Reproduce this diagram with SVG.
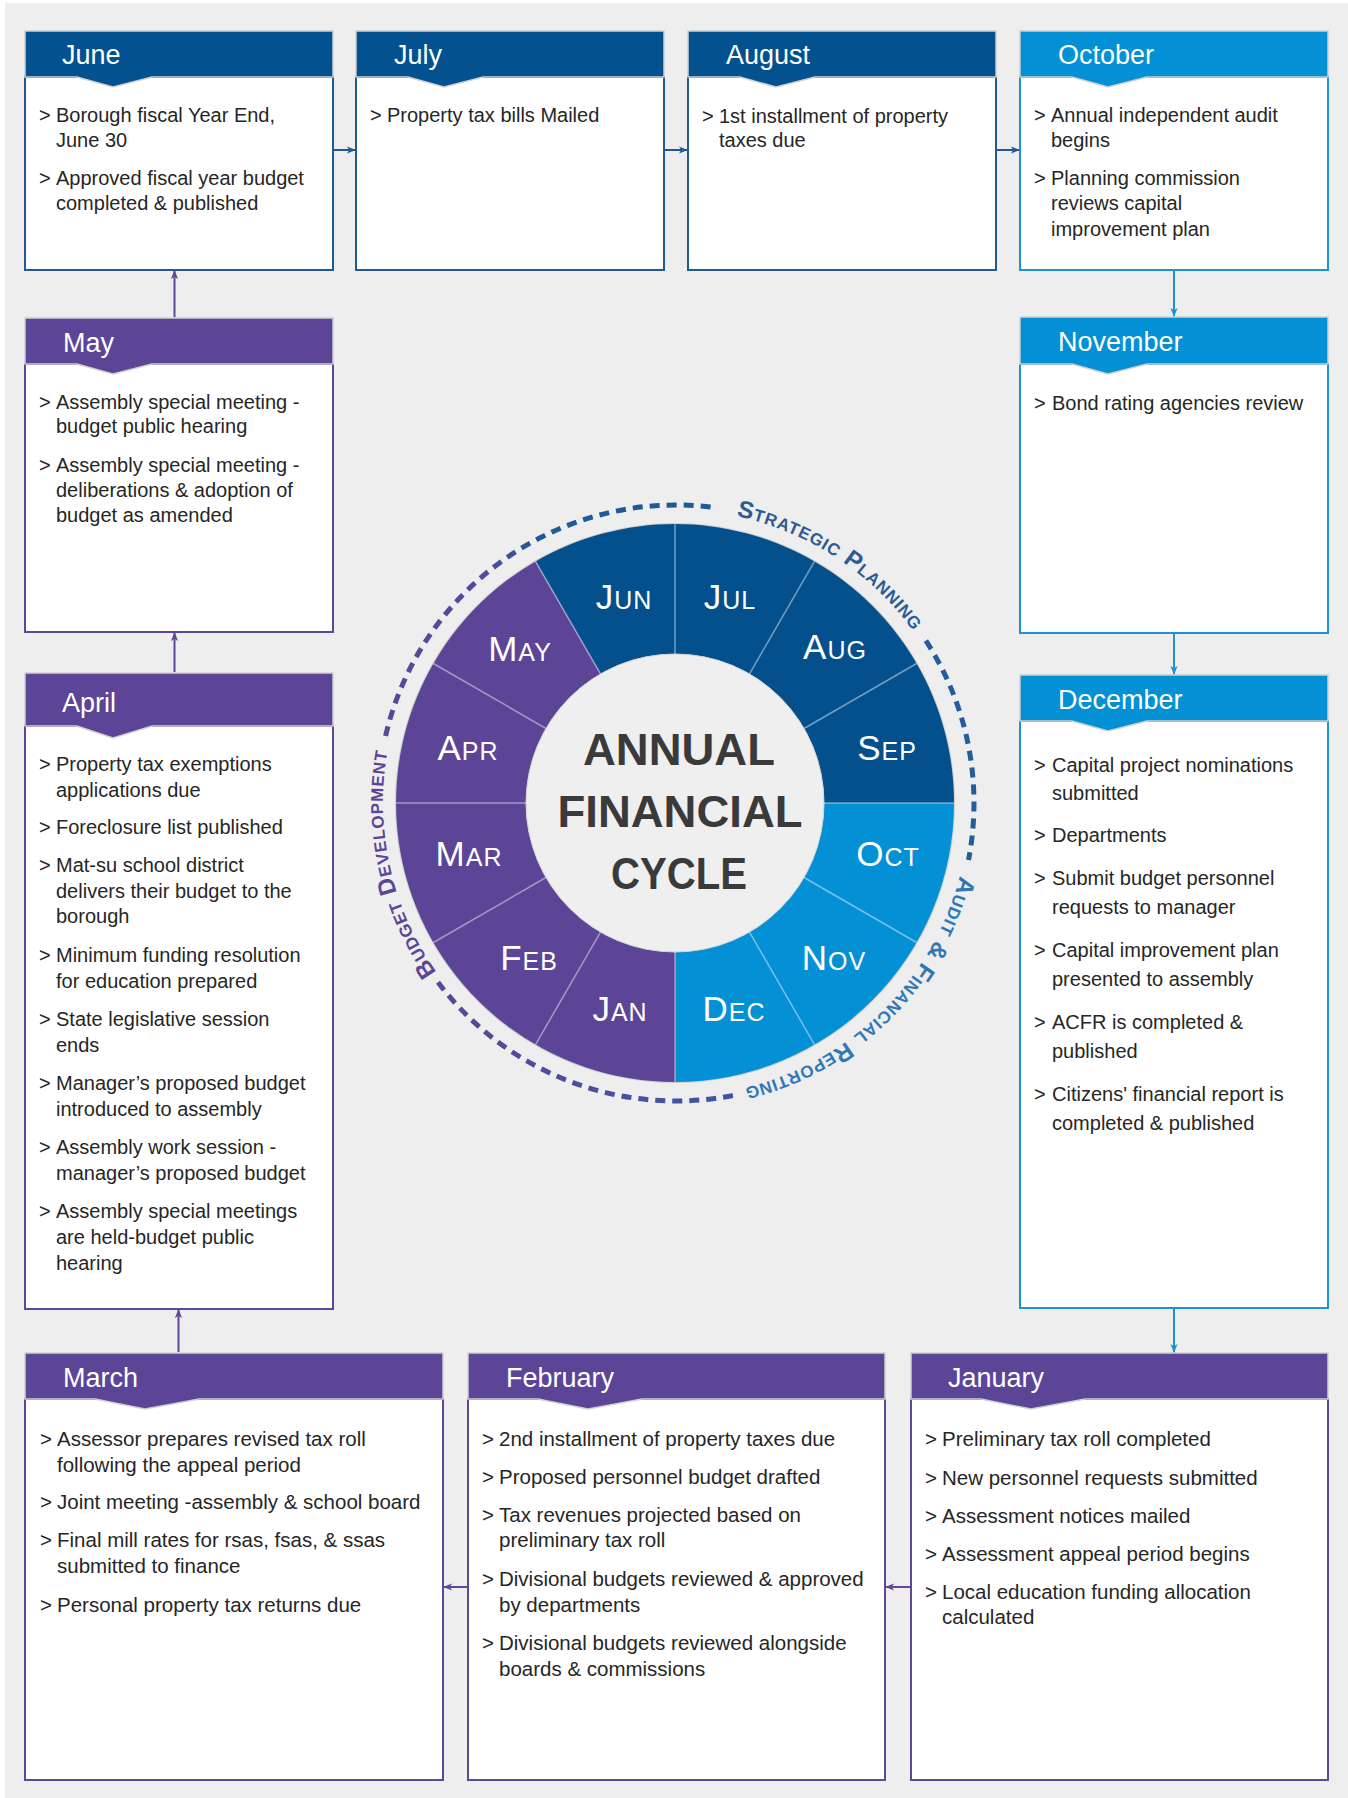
<svg xmlns="http://www.w3.org/2000/svg" width="1348" height="1798" viewBox="0 0 1348 1798">
<defs>
<style>
.hd-db{fill:#03528f;stroke:#cfcfcf;stroke-width:1.5}
.hd-lb{fill:#0490d4;stroke:#cfcfcf;stroke-width:1.5}
.hd-pu{fill:#5c4497;stroke:#cfcfcf;stroke-width:1.5}
.bd-db{fill:#fff;stroke:#1f5a94;stroke-width:2}
.bd-lb{fill:#fff;stroke:#1c93d3;stroke-width:2}
.bd-pu{fill:#fff;stroke:#5f479b;stroke-width:2}
.ttl{font-family:"Liberation Sans",Arial,sans-serif;font-size:27px;fill:#ffffff}
.tx{font-family:"Liberation Sans",Arial,sans-serif;font-size:20px;fill:#262626}
.tx2{font-family:"Liberation Sans",Arial,sans-serif;font-size:20.5px;fill:#262626}
.mo{font-family:"Liberation Sans",Arial,sans-serif;font-size:35px;fill:#ffffff;font-variant:small-caps;text-anchor:middle;letter-spacing:1px}
.ring{font-family:"Liberation Sans",Arial,sans-serif;font-size:24px;font-weight:bold;font-variant:small-caps;letter-spacing:0.8px}
.ctr{font-family:"Liberation Sans",Arial,sans-serif;font-size:44px;font-weight:bold;fill:#3a3a3a;text-anchor:middle}
.c-db{stroke:#1f5a94;stroke-width:2;fill:none}
.c-lb{stroke:#1c93d3;stroke-width:2;fill:none}
.c-pu{stroke:#5f479b;stroke-width:2;fill:none}
.div{stroke:#ffffff;stroke-opacity:0.45;stroke-width:1.5}
.dash{fill:none;stroke-width:5;stroke-dasharray:10 7}
</style>
<marker id="aDB" viewBox="0 0 10 10" refX="9" refY="5" markerWidth="9" markerHeight="9" markerUnits="userSpaceOnUse" orient="auto"><path d="M0,1 L10,5 L0,9 L2.5,5 Z" fill="#1f5a94"/></marker>
<marker id="aLB" viewBox="0 0 10 10" refX="9" refY="5" markerWidth="9" markerHeight="9" markerUnits="userSpaceOnUse" orient="auto"><path d="M0,1 L10,5 L0,9 L2.5,5 Z" fill="#1c93d3"/></marker>
<marker id="aPU" viewBox="0 0 10 10" refX="9" refY="5" markerWidth="9" markerHeight="9" markerUnits="userSpaceOnUse" orient="auto"><path d="M0,1 L10,5 L0,9 L2.5,5 Z" fill="#5f479b"/></marker>
<linearGradient id="gA" gradientUnits="userSpaceOnUse" x1="385" y1="760" x2="720" y2="505"><stop offset="0" stop-color="#5b469a"/><stop offset="0.45" stop-color="#5b469a"/><stop offset="0.6" stop-color="#1f5a98"/><stop offset="1" stop-color="#1f5a98"/></linearGradient>
<linearGradient id="gC" gradientUnits="userSpaceOnUse" x1="735" y1="1096" x2="438" y2="982"><stop offset="0" stop-color="#3d55a3"/><stop offset="1" stop-color="#5b469a"/></linearGradient>
<path id="pS" d="M 640.3 512.2 A 293 293 0 0 1 956.2 717.3"/>
<path id="pA" d="M 967.6 831.1 A 293 293 0 0 1 699 1095.1"/>
<path id="pB" d="M 497.6 1035.5 A 293 293 0 0 1 416.1 667.7"/>
</defs>

<rect x="0" y="0" width="1348" height="1798" fill="#ffffff"/>
<rect x="5" y="3" width="1343" height="1795" fill="#eeeeee"/>

<!-- Central wheel -->
<g id="wheel">
<circle cx="675" cy="803" r="280" fill="#cfcfcf"/>
<path d="M535.5 561.4 A279 279 0 0 1 954 803 L824 803 A149 149 0 0 0 600.5 673.96 Z" fill="#03508c"/>
<path d="M954 803 A279 279 0 0 1 675 1082 L675 952 A149 149 0 0 0 824 803 Z" fill="#0490d4"/>
<path d="M675 1082 A279 279 0 0 1 535.5 561.4 L600.5 673.96 A149 149 0 0 0 675 952 Z" fill="#5c4497"/>
<circle cx="675" cy="803" r="149" fill="#efefef" stroke="#d4d4d4" stroke-width="1"/>
<line class="div" x1="675" y1="654" x2="675" y2="524"/>
<line class="div" x1="749.5" y1="673.96" x2="814.5" y2="561.38"/>
<line class="div" x1="804.04" y1="728.5" x2="916.62" y2="663.5"/>
<line class="div" x1="824" y1="803" x2="954" y2="803"/>
<line class="div" x1="804.04" y1="877.5" x2="916.62" y2="942.5"/>
<line class="div" x1="749.5" y1="932.04" x2="814.5" y2="1044.62"/>
<line class="div" x1="675" y1="952" x2="675" y2="1082"/>
<line class="div" x1="600.5" y1="932.04" x2="535.5" y2="1044.62"/>
<line class="div" x1="545.96" y1="877.5" x2="433.38" y2="942.5"/>
<line class="div" x1="526" y1="803" x2="396" y2="803"/>
<line class="div" x1="545.96" y1="728.5" x2="433.38" y2="663.5"/>
<line class="div" x1="600.5" y1="673.96" x2="535.5" y2="561.38"/>
<text class="mo" x="624" y="609">Jun</text>
<text class="mo" x="730" y="609">Jul</text>
<text class="mo" x="835" y="659">Aug</text>
<text class="mo" x="887" y="760">Sep</text>
<text class="mo" x="888" y="866">Oct</text>
<text class="mo" x="834" y="970">Nov</text>
<text class="mo" x="734" y="1021">Dec</text>
<text class="mo" x="620" y="1021">Jan</text>
<text class="mo" x="529" y="970">Feb</text>
<text class="mo" x="469" y="866">Mar</text>
<text class="mo" x="468" y="760">Apr</text>
<text class="mo" x="520" y="661">May</text>
<text class="ctr" x="679" y="765" textLength="192" lengthAdjust="spacingAndGlyphs">ANNUAL</text>
<text class="ctr" x="680" y="827" textLength="245" lengthAdjust="spacingAndGlyphs">FINANCIAL</text>
<text class="ctr" x="679" y="889" textLength="136" lengthAdjust="spacingAndGlyphs">CYCLE</text>
</g>

<g id="ring">
<path class="dash" stroke="url(#gA)" d="M385.6 736 A298 298 0 0 1 717.5 507.9"/>
<path class="dash" stroke="#245d9c" d="M925.9 640.7 A298 298 0 0 1 968.5 859.9"/>
<path class="dash" stroke="url(#gC)" d="M732.9 1095.5 A298 298 0 0 1 438 982.3"/>
<text class="ring" fill="#2d5a94"><textPath href="#pS" startOffset="50%" text-anchor="middle">Strategic Planning</textPath></text>
<text class="ring" fill="#2f78b6"><textPath href="#pA" startOffset="50%" text-anchor="middle">Audit &amp; Financial Reporting</textPath></text>
<text class="ring" fill="#5b4597"><textPath href="#pB" startOffset="50%" text-anchor="middle">Budget Development</textPath></text>
</g>

<!-- Nodes -->
<g id="june">
<rect class="bd-db" x="25" y="77" width="308" height="193"/>
<path class="hd-db" d="M25 31 H333 V77 H152 L113 87 L77 77 H25 Z"/>
<text class="ttl" x="62" y="64">June</text>
<text class="tx"><tspan x="39" y="122">&gt;</tspan><tspan x="56" y="122">Borough fiscal Year End,</tspan><tspan x="56" y="147">June 30</tspan><tspan x="39" y="185">&gt;</tspan><tspan x="56" y="185">Approved fiscal year budget</tspan><tspan x="56" y="210">completed &amp; published</tspan></text>
</g>

<g id="july">
<rect class="bd-db" x="356" y="77" width="308" height="193"/>
<path class="hd-db" d="M356 31 H664 V77 H483 L444 87 L408 77 H356 Z"/>
<text class="ttl" x="394" y="64">July</text>
<text class="tx"><tspan x="370" y="122">&gt;</tspan><tspan x="387" y="122">Property tax bills Mailed</tspan></text>
</g>

<g id="august">
<rect class="bd-db" x="688" y="77" width="308" height="193"/>
<path class="hd-db" d="M688 31 H996 V77 H815 L776 87 L740 77 H688 Z"/>
<text class="ttl" x="726" y="64">August</text>
<text class="tx"><tspan x="702" y="123">&gt;</tspan><tspan x="719" y="123">1st installment of property</tspan><tspan x="719" y="147">taxes due</tspan></text>
</g>

<g id="october">
<rect class="bd-lb" x="1020" y="77" width="308" height="193"/>
<path class="hd-lb" d="M1020 31 H1328 V77 H1147 L1108 87 L1072 77 H1020 Z"/>
<text class="ttl" x="1058" y="64">October</text>
<text class="tx"><tspan x="1034" y="122">&gt;</tspan><tspan x="1051" y="122">Annual independent audit</tspan><tspan x="1051" y="147">begins</tspan><tspan x="1034" y="185">&gt;</tspan><tspan x="1051" y="185">Planning commission</tspan><tspan x="1051" y="210">reviews capital</tspan><tspan x="1051" y="236">improvement plan</tspan></text>
</g>

<g id="may">
<rect class="bd-pu" x="25" y="364" width="308" height="268"/>
<path class="hd-pu" d="M25 318 H333 V364 H152 L113 374 L77 364 H25 Z"/>
<text class="ttl" x="63" y="352">May</text>
<text class="tx"><tspan x="39" y="409">&gt;</tspan><tspan x="56" y="409">Assembly special meeting -</tspan><tspan x="56" y="433">budget public hearing</tspan><tspan x="39" y="472">&gt;</tspan><tspan x="56" y="472">Assembly special meeting -</tspan><tspan x="56" y="497">deliberations &amp; adoption of</tspan><tspan x="56" y="522">budget as amended</tspan></text>
</g>

<g id="april">
<rect class="bd-pu" x="25" y="726" width="308" height="583"/>
<path class="hd-pu" d="M25 673 H333 V726 H152 L113 738 L77 726 H25 Z"/>
<text class="ttl" x="62" y="712">April</text>
<text class="tx"><tspan x="39" y="771">&gt;</tspan><tspan x="56" y="771">Property tax exemptions</tspan><tspan x="56" y="797">applications due</tspan><tspan x="39" y="834">&gt;</tspan><tspan x="56" y="834">Foreclosure list published</tspan><tspan x="39" y="872">&gt;</tspan><tspan x="56" y="872">Mat-su school district</tspan><tspan x="56" y="898">delivers their budget to the</tspan><tspan x="56" y="923">borough</tspan><tspan x="39" y="962">&gt;</tspan><tspan x="56" y="962">Minimum funding resolution</tspan><tspan x="56" y="988">for education prepared</tspan><tspan x="39" y="1026">&gt;</tspan><tspan x="56" y="1026">State legislative session</tspan><tspan x="56" y="1052">ends</tspan><tspan x="39" y="1090">&gt;</tspan><tspan x="56" y="1090">Manager’s proposed budget</tspan><tspan x="56" y="1116">introduced to assembly</tspan><tspan x="39" y="1154">&gt;</tspan><tspan x="56" y="1154">Assembly work session -</tspan><tspan x="56" y="1180">manager’s proposed budget</tspan><tspan x="39" y="1218">&gt;</tspan><tspan x="56" y="1218">Assembly special meetings</tspan><tspan x="56" y="1244">are held-budget public</tspan><tspan x="56" y="1270">hearing</tspan></text>
</g>

<g id="november">
<rect class="bd-lb" x="1020" y="364" width="308" height="269"/>
<path class="hd-lb" d="M1020 317 H1328 V364 H1147 L1108 374 L1072 364 H1020 Z"/>
<text class="ttl" x="1058" y="351">November</text>
<text class="tx"><tspan x="1034" y="410">&gt;</tspan><tspan x="1052" y="410">Bond rating agencies review</tspan></text>
</g>

<g id="december">
<rect class="bd-lb" x="1020" y="721" width="308" height="587"/>
<path class="hd-lb" d="M1020 675 H1328 V721 H1147 L1108 731 L1072 721 H1020 Z"/>
<text class="ttl" x="1058" y="709">December</text>
<text class="tx"><tspan x="1034" y="772">&gt;</tspan><tspan x="1052" y="772">Capital project nominations</tspan><tspan x="1052" y="800">submitted</tspan><tspan x="1034" y="842">&gt;</tspan><tspan x="1052" y="842">Departments</tspan><tspan x="1034" y="885">&gt;</tspan><tspan x="1052" y="885">Submit budget personnel</tspan><tspan x="1052" y="914">requests to manager</tspan><tspan x="1034" y="957">&gt;</tspan><tspan x="1052" y="957">Capital improvement plan</tspan><tspan x="1052" y="986">presented to assembly</tspan><tspan x="1034" y="1029">&gt;</tspan><tspan x="1052" y="1029">ACFR is completed &amp;</tspan><tspan x="1052" y="1058">published</tspan><tspan x="1034" y="1101">&gt;</tspan><tspan x="1052" y="1101">Citizens' financial report is</tspan><tspan x="1052" y="1130">completed &amp; published</tspan></text>
</g>

<g id="march">
<rect class="bd-pu" x="25" y="1399" width="418" height="381"/>
<path class="hd-pu" d="M25 1353 H443 V1399 H199 L145 1409 L95 1399 H25 Z"/>
<text class="ttl" x="63" y="1387">March</text>
<text class="tx2"><tspan x="40" y="1446">&gt;</tspan><tspan x="57" y="1446">Assessor prepares revised tax roll</tspan><tspan x="57" y="1472">following the appeal period</tspan><tspan x="40" y="1509">&gt;</tspan><tspan x="57" y="1509">Joint meeting -assembly &amp; school board</tspan><tspan x="40" y="1547">&gt;</tspan><tspan x="57" y="1547">Final mill rates for rsas, fsas, &amp; ssas</tspan><tspan x="57" y="1573">submitted to finance</tspan><tspan x="40" y="1612">&gt;</tspan><tspan x="57" y="1612">Personal property tax returns due</tspan></text>
</g>

<g id="february">
<rect class="bd-pu" x="468" y="1399" width="417" height="381"/>
<path class="hd-pu" d="M468 1353 H885 V1399 H642 L588 1409 L538 1399 H468 Z"/>
<text class="ttl" x="506" y="1387">February</text>
<text class="tx2"><tspan x="482" y="1446">&gt;</tspan><tspan x="499" y="1446">2nd installment of property taxes due</tspan><tspan x="482" y="1484">&gt;</tspan><tspan x="499" y="1484">Proposed personnel budget drafted</tspan><tspan x="482" y="1522">&gt;</tspan><tspan x="499" y="1522">Tax revenues projected based on</tspan><tspan x="499" y="1547">preliminary tax roll</tspan><tspan x="482" y="1586">&gt;</tspan><tspan x="499" y="1586">Divisional budgets reviewed &amp; approved</tspan><tspan x="499" y="1612">by departments</tspan><tspan x="482" y="1650">&gt;</tspan><tspan x="499" y="1650">Divisional budgets reviewed alongside</tspan><tspan x="499" y="1676">boards &amp; commissions</tspan></text>
</g>

<g id="january">
<rect class="bd-pu" x="911" y="1399" width="417" height="381"/>
<path class="hd-pu" d="M911 1353 H1328 V1399 H1085 L1031 1409 L981 1399 H911 Z"/>
<text class="ttl" x="948" y="1387">January</text>
<text class="tx2"><tspan x="925" y="1446">&gt;</tspan><tspan x="942" y="1446">Preliminary tax roll completed</tspan><tspan x="925" y="1485">&gt;</tspan><tspan x="942" y="1485">New personnel requests submitted</tspan><tspan x="925" y="1523">&gt;</tspan><tspan x="942" y="1523">Assessment notices mailed</tspan><tspan x="925" y="1561">&gt;</tspan><tspan x="942" y="1561">Assessment appeal period begins</tspan><tspan x="925" y="1599">&gt;</tspan><tspan x="942" y="1599">Local education funding allocation</tspan><tspan x="942" y="1624">calculated</tspan></text>
</g>

<g id="connectors">
<line class="c-db" x1="334" y1="150" x2="355" y2="150" marker-end="url(#aDB)"/>
<line class="c-db" x1="665" y1="150" x2="687" y2="150" marker-end="url(#aDB)"/>
<line class="c-db" x1="997" y1="150" x2="1019" y2="150" marker-end="url(#aDB)"/>
<line class="c-lb" x1="1174" y1="271" x2="1174" y2="316" marker-end="url(#aLB)"/>
<line class="c-lb" x1="1174" y1="634" x2="1174" y2="674" marker-end="url(#aLB)"/>
<line class="c-lb" x1="1174" y1="1309" x2="1174" y2="1352" marker-end="url(#aLB)"/>
<line class="c-pu" x1="910" y1="1587" x2="886" y2="1587" marker-end="url(#aPU)"/>
<line class="c-pu" x1="467" y1="1587" x2="444" y2="1587" marker-end="url(#aPU)"/>
<line class="c-pu" x1="178.5" y1="1352" x2="178.5" y2="1310" marker-end="url(#aPU)"/>
<line class="c-pu" x1="174.5" y1="672" x2="174.5" y2="633" marker-end="url(#aPU)"/>
<line class="c-pu" x1="174.5" y1="317" x2="174.5" y2="271" marker-end="url(#aPU)"/>
</g>
</svg>
